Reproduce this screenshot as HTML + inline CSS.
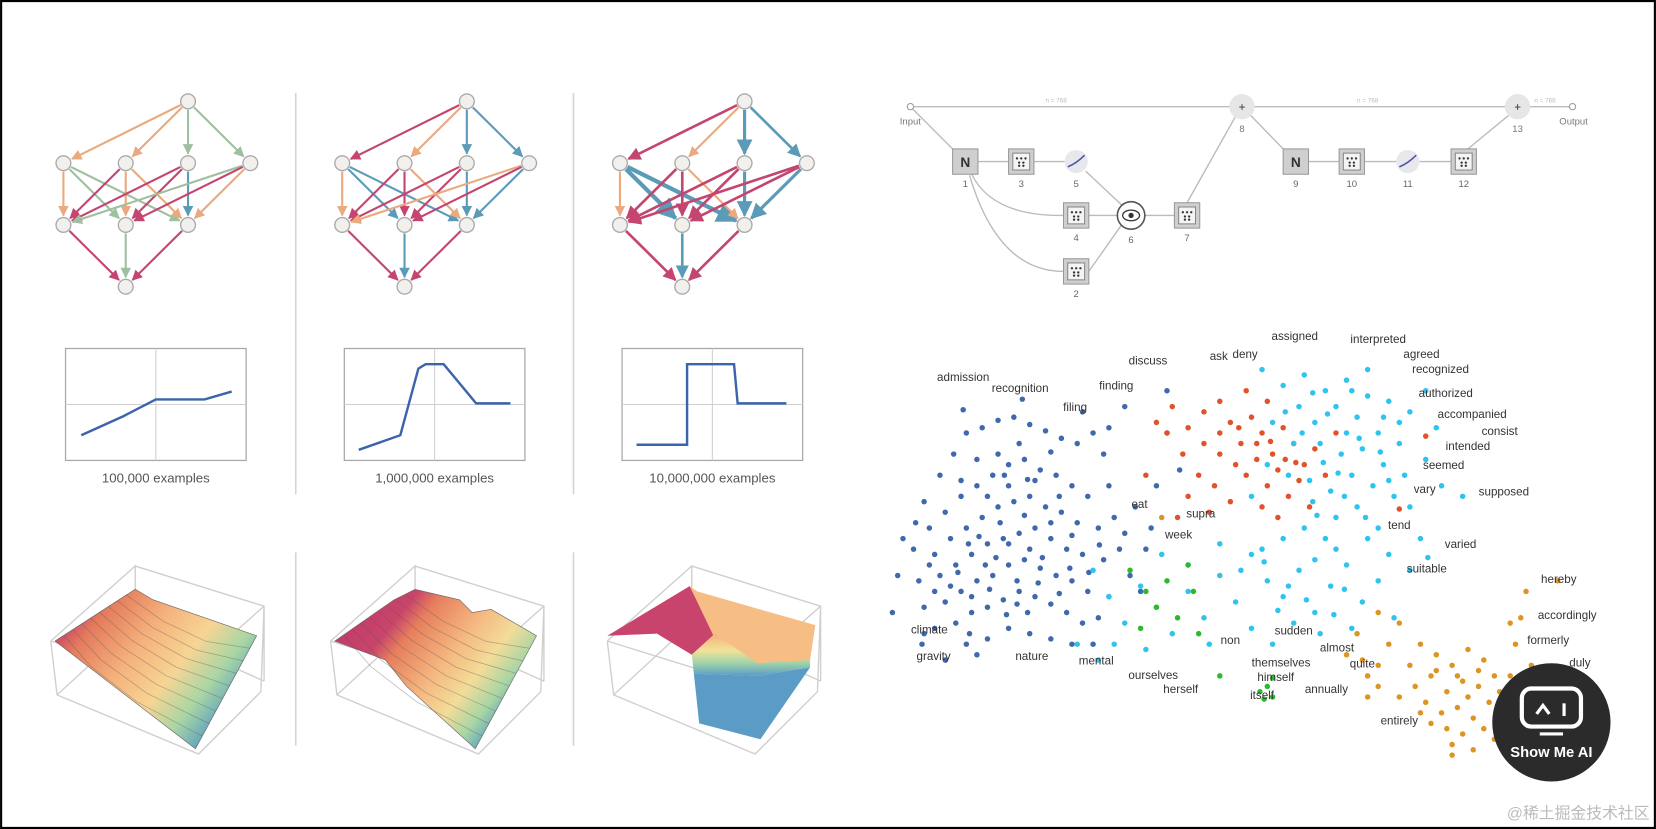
<!DOCTYPE html>
<html><head><meta charset="utf-8"><style>
html,body{margin:0;padding:0;background:#fff;}
svg{display:block;}
text{font-family:"Liberation Sans","Noto Sans CJK SC",sans-serif;}
</style></head><body>
<svg id="root" width="1656" height="829" viewBox="0 0 1568 785" xmlns="http://www.w3.org/2000/svg">
<defs>
<linearGradient id="g1" x1="55" y1="590" x2="200" y2="705" gradientUnits="userSpaceOnUse">
<stop offset="0" stop-color="#c23a6a"/><stop offset="0.15" stop-color="#e47b5c"/><stop offset="0.4" stop-color="#f5b27c"/><stop offset="0.62" stop-color="#f6d594"/><stop offset="0.8" stop-color="#a9d6a4"/><stop offset="1" stop-color="#4f97c4"/></linearGradient>
<linearGradient id="g2" x1="55" y1="590" x2="200" y2="705" gradientUnits="userSpaceOnUse">
<stop offset="0" stop-color="#c23a6a"/><stop offset="0.22" stop-color="#c8456a"/><stop offset="0.32" stop-color="#e67e5c"/><stop offset="0.55" stop-color="#f5b880"/><stop offset="0.72" stop-color="#f3dc98"/><stop offset="0.86" stop-color="#a9d6a4"/><stop offset="1" stop-color="#4f97c4"/></linearGradient>
<linearGradient id="g3" x1="0" y1="600" x2="0" y2="640" gradientUnits="userSpaceOnUse">
<stop offset="0" stop-color="#f4b07a"/><stop offset="0.4" stop-color="#f2e29a"/><stop offset="0.7" stop-color="#9fd3a8"/><stop offset="1" stop-color="#5a9bc6"/></linearGradient>
</defs>
<rect x="1" y="1" width="1566" height="783" fill="#fff" stroke="#000" stroke-width="2"/>
<g id="dividers" stroke="#d4d4d4" stroke-width="1.5">
<line x1="280" y1="88" x2="280" y2="468"/><line x1="543" y1="88" x2="543" y2="468"/>
<line x1="280" y1="523" x2="280" y2="706"/><line x1="543" y1="523" x2="543" y2="706"/>
</g>
<g id="graphs"></g>
<g id="lines"></g>
<g id="surfaces"></g>
<g id="net"></g>
<g id="scatter"></g>
<g>
<circle cx="1469" cy="684" r="56" fill="#2b2b2b"/>
<rect x="1441" y="652" width="56" height="36" rx="9" fill="none" stroke="#fff" stroke-width="4"/>
<path d="M1455 676 L1461 668 L1467 676" fill="none" stroke="#fff" stroke-width="3"/>
<line x1="1481" y1="666" x2="1481" y2="678" stroke="#fff" stroke-width="3"/>
<line x1="1458" y1="695" x2="1480" y2="695" stroke="#fff" stroke-width="3"/>
<text x="1469" y="717" text-anchor="middle" font-size="14" font-weight="bold" fill="#fff">Show Me AI</text>
</g>
<text x="1562" y="775" text-anchor="end" font-size="15" fill="#bbb">@稀土掘金技术社区</text>
</svg>
<script>
const NS='http://www.w3.org/2000/svg';
function mk(tag,attrs,parent){const e=document.createElementNS(NS,tag);for(const k in attrs)e.setAttribute(k,attrs[k]);parent.appendChild(e);return e;}

// ---------- DAG graphs ----------
const nodeCols=[0,-2,-1,0,1,-2,-1,0,-1];
const nodeRows=[0,1,1,1,1,2,2,2,3];
const edgeFrom=[0,0,0,0,1,1,1,2,2,2,3,3,3,4,4,4,5,6,7];
const edgeTo  =[1,2,3,4,5,6,7,5,7,6,5,6,7,5,6,7,8,8,8];
const C={o:'#eaa97e',s:'#9fc0a0',t:'#5b9bb8',r:'#c4456f'};
const edgeColors=[
 ['o','o','s','s','o','s','s','r','o','o','r','r','t','s','r','o','r','s','r'],
 ['r','o','t','t','o','t','t','r','o','r','r','r','t','o','r','t','r','t','r'],
 ['r','o','t','t','o','t','t','r','o','r','r','r','t','r','r','t','r','t','r']];
const edgeWidths=[
 [2,2,2,2,2,2,2,2,2,2,2,2,2,2,2,2,2,2,2],
 [2,2,2,2,2,2,2,2,2,2,2,2,2,2,2,2,2,2,2],
 [2.5,2,3,2.5,2,4,4,2.5,2,2.5,2.5,2.5,3,2.5,2.5,3,2.5,2.5,2.5]];
const graphOrigins=[178,442,705];
const G=document.getElementById('graphs');
['o','s','t','r'].forEach(k=>{const m=mk('marker',{id:'ar'+k,viewBox:'0 0 10 10',refX:'9',refY:'5',markerWidth:'5',markerHeight:'5',orient:'auto'},G);mk('path',{d:'M0 0 L10 5 L0 10 z',fill:C[k]},m);});
function gx(g,c){return graphOrigins[g]+c*59;}
function gy(r){return 96+r*58.5;}
graphOrigins.forEach((o,g)=>{
 const gg=mk('g',{},G);
 
 
 edgeFrom.forEach((f,i)=>{
  const t=edgeTo[i];const x1=gx(g,nodeCols[f]),y1=gy(nodeRows[f]),x2=gx(g,nodeCols[t]),y2=gy(nodeRows[t]);
  const d=Math.hypot(x2-x1,y2-y1);const ux=(x2-x1)/d,uy=(y2-y1)/d;
  const l=mk('line',{x1:x1+ux*8,y1:y1+uy*8,x2:x2-ux*9,y2:y2-uy*9,stroke:C[edgeColors[g][i]],'stroke-width':edgeWidths[g][i],'marker-end':'url(#ar'+edgeColors[g][i]+')'},gg);
  
  
 });
 nodeCols.forEach((c,i)=>{
  const n=mk('circle',{cx:gx(g,c),cy:gy(nodeRows[i]),r:7,fill:'#f2f0ec',stroke:'#aaa','stroke-width':1.3},gg);
  
  
 });
});

// ---------- Line plots ----------
const lineLabels=['100,000 examples','1,000,000 examples','10,000,000 examples'];
const lineX=[[0.087,0.32,0.5,0.77,0.92],[0.08,0.31,0.41,0.45,0.55,0.73,0.92],[0.08,0.36,0.36,0.62,0.64,0.91]];
const lineY=[[-0.55,-0.21,0.09,0.09,0.23],[-0.81,-0.55,0.64,0.72,0.72,0.02,0.02],[-0.72,-0.72,0.72,0.72,0.02,0.02]];
const boxLefts=[62,326,589];
const L=document.getElementById('lines');
boxLefts.forEach((bl,i)=>{
 const W=171,top=330,H=106;
 const sx=v=>bl+v*W, sy=v=>top+H/2-v*H/2;
 const g=mk('g',{},L);
 
 
 mk('rect',{x:bl,y:top,width:W,height:H,fill:'#fff',stroke:'#a8a8a8','stroke-width':1.2},g);
 mk('line',{x1:sx(0.5),y1:top,x2:sx(0.5),y2:top+H,stroke:'#d0d0d0'},g);
 mk('line',{x1:bl,y1:sy(0),x2:bl+W,y2:sy(0),stroke:'#d0d0d0'},g);
 const p=mk('polyline',{points:lineX[i].map((x,j)=>sx(x)+','+sy(lineY[i][j])).join(' '),fill:'none',stroke:'#3b64ad','stroke-width':2.3},g);
 
 
 const t=mk('text',{x:sx(0.5),y:457,'text-anchor':'middle','font-size':12.5,fill:'#555'},g);
 t.textContent=lineLabels[i];
 
 
});

// ---------- Surfaces ----------
const S=document.getElementById('surfaces');
const surfOffsets=[0,265,527];
surfOffsets.forEach((o,i)=>{
 const g=mk('g',{transform:'translate('+o+',0)'},S);
 
 
 const box='M128 536 L250 574 L250 645 M48 607 L128 536 L128 590 M48 607 L54 658 L188 714 L247 655 L250 574 M48 607 L170 645 L250 574 M54 658 L128 590 L250 645';
 mk('path',{d:box,fill:'none',stroke:'#cfcfcf','stroke-width':1.3},g);
 if(i===0){
  mk('polygon',{points:'52,607 128,558 145,568 243,602 185,709',fill:'url(#g1)',stroke:'#666','stroke-width':0.6},g);
 } else if(i===1){
  mk('polygon',{points:'52,607 108,568 128,558 170,568 182,580 200,577 243,602 185,709 120,650 100,625',fill:'url(#g2)',stroke:'#666','stroke-width':0.6},g);
 } else {
  mk('polygon',{points:'48,602 126,555 150,600 128,620 95,600',fill:'#c8446c'},g);
  mk('polygon',{points:'126,555 133,560 245,592 240,625 190,630 150,605',fill:'#f6bd85'},g);
  mk('polygon',{points:'128,620 150,600 190,628 240,625 240,632 190,640 130,638',fill:'url(#g3)'},g);
  mk('polygon',{points:'130,638 190,640 240,632 193,700 135,685',fill:'#5b9cc6'},g);
 }
 if(i<2){
  const cl=mk('g',{stroke:'#555','stroke-width':0.7,fill:'none',opacity:0.4},g);
  for(let k=1;k<9;k++){
   const f=k/9;
   const ax=52+f*76, ay=607-f*49;
   const bx=ax+40+f*20, by=ay+50-f*10;
   const cx=185+f*58, cy=709-f*107;
   mk('polyline',{points:ax+','+ay+' '+(ax+(bx-ax)*0.6)+','+(ay+(by-ay)*0.6)+' '+(bx+(cx-bx)*0.3)+','+(by+(cy-by)*0.3)+' '+cx+','+cy},cl);
  }
 }
});

// ---------- Network diagram ----------
const N=document.getElementById('net');
function line(x1,y1,x2,y2){mk('line',{x1,y1,x2,y2,stroke:'#bbb','stroke-width':1.3},N);}
function curve(d){mk('path',{d,fill:'none',stroke:'#bbb','stroke-width':1.3},N);}
line(862,101,1165,101);line(1187,101,1426,101);line(1448,101,1489,101);
line(862,101,902,141);line(926,153,955,153);line(979,153,1008,153);
curve('M920 165 Q940 205 1007 204');curve('M918 166 Q945 257 1007 257');
line(1028,162,1062,194);line(1031,204,1058,204);line(1031,257,1062,213);line(1084,204,1112,204);
line(1124,192,1170,110);line(1184,109,1215,141);line(1239,153,1268,153);line(1292,153,1322,153);line(1344,153,1374,153);line(1390,141,1430,108);
mk('circle',{cx:862,cy:101,r:3,fill:'#fff',stroke:'#999'},N);mk('circle',{cx:1489,cy:101,r:3,fill:'#fff',stroke:'#999'},N);
[[1176,101],[1437,101]].forEach(p=>{mk('circle',{cx:p[0],cy:p[1],r:12,fill:'#e6e6e6'},N);mk('text',{x:p[0],y:p[1]+4,'text-anchor':'middle','font-size':11,fill:'#333'},N).textContent='+';});
const boxes=[[914,153,'N','1'],[967,153,'b','3'],[1019,204,'b','4'],[1019,257,'b','2'],[1124,204,'b','7'],[1227,153,'N','9'],[1280,153,'b','10'],[1386,153,'b','12']];
boxes.forEach(b=>{
 const g=mk('g',{},N);
 
 
 mk('rect',{x:b[0]-12,y:b[1]-12,width:24,height:24,fill:'#cfcfcf',stroke:'#999'},g);
 if(b[2]==='N'){mk('text',{x:b[0],y:b[1]+5,'text-anchor':'middle','font-size':13,'font-weight':'bold',fill:'#333'},g).textContent='N';}
 else{mk('rect',{x:b[0]-8,y:b[1]-8,width:16,height:16,fill:'#f4f4f4',stroke:'#888'},g);
  [[-4,-3],[0,-3],[4,-3],[-2,1],[2,1],[-2,4],[2,4]].forEach(d=>mk('circle',{cx:b[0]+d[0],cy:b[1]+d[1],r:1.1,fill:'#333'},g));}
 mk('text',{x:b[0],y:b[1]+24,'text-anchor':'middle','font-size':9,fill:'#666'},g).textContent=b[3];
});
[[1019,153,'5'],[1333,153,'11']].forEach(c=>{mk('circle',{cx:c[0],cy:c[1],r:11,fill:'#e8e8ec'},N);mk('path',{d:'M'+(c[0]-8)+' '+(c[1]+5)+' Q'+c[0]+' '+(c[1]+2)+' '+(c[0]+8)+' '+(c[1]-6),fill:'none',stroke:'#4a56a8','stroke-width':1.5},N);mk('text',{x:c[0],y:c[1]+24,'text-anchor':'middle','font-size':9,fill:'#666'},N).textContent=c[2];});
mk('circle',{cx:1071,cy:204,r:13,fill:'#fff',stroke:'#555','stroke-width':1.5},N);
mk('ellipse',{cx:1071,cy:204,rx:8,ry:5,fill:'none',stroke:'#333','stroke-width':1.2},N);
mk('circle',{cx:1071,cy:204,r:2.5,fill:'#333'},N);
mk('text',{x:1071,y:230,'text-anchor':'middle','font-size':9,fill:'#666'},N).textContent='6';
[['Input',862,118],['Output',1490,118],['8',1176,125],['13',1437,125]].forEach(t=>{mk('text',{x:t[1],y:t[2],'text-anchor':'middle','font-size':9,fill:'#777'},N).textContent=t[0];});
[[1000,97],[1295,97],[1463,97]].forEach(t=>{mk('text',{x:t[0],y:t[1],'text-anchor':'middle','font-size':6,fill:'#bbb'},N).textContent='n = 768';});

// ---------- Scatter ----------
const bluePts=[[20,165],[35,140],[48,120],[60,100],[75,95],[90,88],[105,85],[120,92],[135,98],[150,105],[165,110],[180,100],[190,120],[25,190],[40,175],[55,160],[70,150],[85,140],[100,130],[115,125],[130,135],[145,140],[160,150],[175,160],[195,150],[10,210],[30,215],[45,200],[60,190],[75,180],[90,170],[105,165],[120,160],[135,170],[150,175],[165,185],[185,190],[200,180],[15,240],[35,235],[50,225],[65,215],[80,205],[95,200],[110,195],[125,190],[140,200],[155,210],[170,215],[190,220],[205,210],[20,265],[40,260],[55,250],[70,240],[85,235],[100,225],[115,220],[130,228],[145,235],[160,240],[175,250],[195,255],[30,285],[50,280],[65,270],[80,265],[95,258],[110,250],[125,255],[140,262],[155,270],[170,280],[185,275],[60,300],[80,295],[100,285],[120,290],[140,295],[160,300],[90,120],[110,110],[140,118],[70,125],[55,145],[100,150],[125,145],[80,160],[115,178],[92,185],[62,205],[140,185],[160,197],[88,218],[108,240],[78,225],[128,242],[148,252],[98,272],[118,270],[65,255],[45,245],[25,225],[215,235],[210,195],[18,300],[-5,235],[-10,270],[0,200],[57,78],[113,68],[170,80],[195,95],[220,170],[230,210],[225,250],[180,300],[63,290],[40,315],[70,310],[20,290],[100,205],[120,210],[82,248],[52,232],[132,218],[158,228],[108,262],[72,198],[148,160],[96,140],[118,144],[176,232],[186,206],[30,250],[12,185],[250,100],[262,135],[240,150],[235,190],[250,60],[210,75]];
const redPts=[[255,75],[270,95],[285,80],[300,70],[310,90],[320,110],[330,85],[340,100],[350,120],[360,95],[370,110],[380,130],[390,115],[300,120],[315,130],[325,140],[335,125],[345,150],[355,135],[365,160],[375,145],[285,110],[295,150],[280,140],[265,120],[250,100],[340,170],[355,180],[310,165],[290,175],[270,160],[325,60],[345,70],[400,140],[410,100],[385,170],[260,180],[240,90],[230,140],[300,100],[335,110],[318,95],[362,125],[348,108],[372,128],[470,172],[495,103]];
const cyanPts=[[340,40],[360,55],[380,45],[400,60],[420,50],[440,65],[460,70],[470,90],[450,100],[430,85],[410,75],[390,90],[375,75],[395,110],[415,120],[435,115],[455,130],[475,140],[465,160],[445,150],[425,140],[405,155],[385,145],[365,140],[410,180],[430,170],[450,190],[470,110],[480,80],[490,200],[400,200],[380,190],[360,200],[340,210],[420,100],[440,40],[370,110],[350,90],[425,60],[398,128],[418,160],[388,165],[455,85],[345,130],[330,160],[480,170],[495,125],[505,95],[510,150],[495,60],[180,230],[195,255],[210,280],[225,245],[240,265],[255,290],[270,250],[285,275],[300,235],[315,260],[330,285],[345,240],[360,255],[375,230],[390,270],[405,245],[420,225],[435,260],[450,240],[465,275],[480,230],[370,280],[350,300],[320,230],[300,205],[330,215],[390,220],[410,210],[440,200],[460,215],[200,300],[230,305],[165,300],[185,315],[270,225],[245,215],[290,300],[395,290],[425,285],[355,268],[382,258],[408,272],[342,222],[365,245],[418,248],[530,160],[497,218],[388,62],[402,82],[432,105],[452,118],[412,138],[392,178],[438,180],[362,80],[378,100],[460,145]];
const greenPts=[[215,230],[230,250],[250,240],[240,265],[260,275],[275,250],[225,285],[270,225],[280,290],[345,340],[338,345],[350,350],[342,352],[300,330],[350,332]];
const orangePts=[[490,300],[505,310],[520,320],[535,305],[550,315],[560,330],[545,340],[530,335],[515,345],[500,330],[485,340],[495,355],[510,365],[525,360],[540,370],[555,355],[565,345],[570,365],[550,380],[530,385],[515,380],[500,375],[520,395],[540,400],[480,320],[470,350],[560,390],[575,330],[470,280],[450,270],[430,290],[420,310],[440,330],[460,300],[590,250],[585,275],[580,300],[595,320],[520,405],[535,350],[505,325],[525,330],[490,365],[545,325],[245,180],[435,315],[440,350],[450,320],[450,340],[620,240],[575,280]];
const clusterColors=['#3f68ad','#e2522a','#2ec4ee','#2cba2c','#de9422'];
const clusterNames=['blue','red','cyan','green','orange'];
const wordLabels=['admission','recognition','filing','finding','discuss','ask','deny','assigned','interpreted','agreed','recognized','authorized','accompanied','consist','intended','seemed','vary','supposed','tend','varied','eat','supra','week','suitable','hereby','accordingly','formerly','duly','climate','gravity','nature','mental','non','sudden','almost','quite','annually','entirely','ourselves','herself','themselves','himself','itself'];
const labelX=[57,111,163,202,232,299,324,371,450,491,509,514,539,565,535,512,494,569,470,528,224,282,261,496,621,629,611,641,25,29,122,183,310,370,411,435,401,470,237,263,358,353,340];
const labelY=[51,61,79,59,35,31,29,12,15,29,43,66,86,102,116,134,157,159,191,209,171,180,200,232,242,276,300,321,290,315,315,319,300,291,307,322,346,376,333,346,321,335,352];
const sx=v=>855+v, sy=v=>310+v;
const SC=document.getElementById('scatter');
[bluePts,redPts,cyanPts,greenPts,orangePts].forEach((pts,ci)=>{
 const g=mk('g',{fill:clusterColors[ci]},SC);
 
 
 pts.forEach(p=>{const c=mk('circle',{cx:sx(p[0]),cy:sy(p[1]),r:2.6},g);
  
  });
});
wordLabels.forEach((w,i)=>{
 const t=mk('text',{x:sx(labelX[i]),y:sy(labelY[i]),'text-anchor':'middle','font-size':11,fill:'#333'},SC);
 t.textContent=w;
 
 
});
</script>
</body></html>
